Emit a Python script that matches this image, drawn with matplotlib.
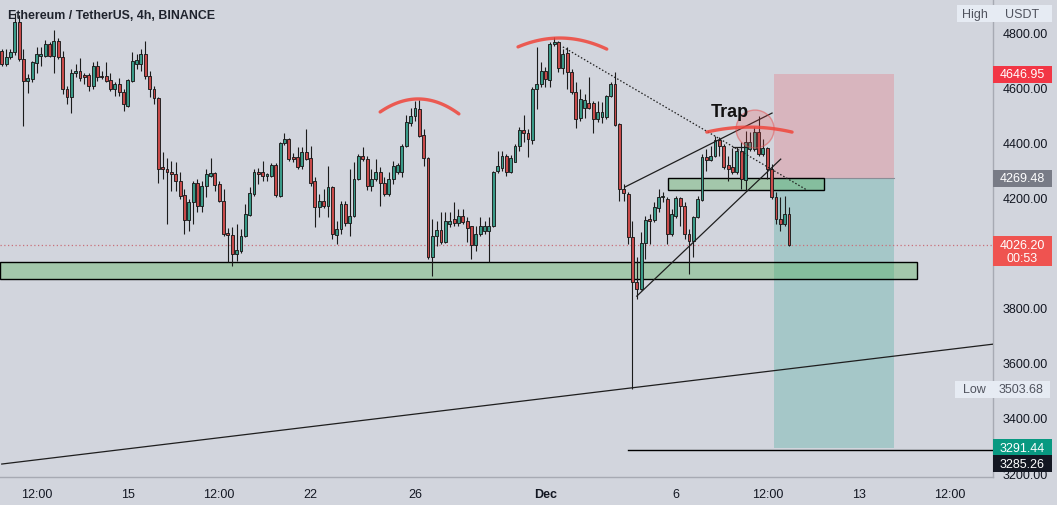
import numpy as np
import matplotlib
matplotlib.use("Agg")
import matplotlib.pyplot as plt
from matplotlib.patches import Rectangle, Ellipse

# ---- candle data (4h ETH/USDT), index 0 = Nov 10 04:00 ----
opens = [4732, 4684, 4711, 4726, 4835, 4702, 4623, 4629, 4687, 4714,
         4714, 4756, 4714, 4768, 4708, 4595, 4566, 4650, 4659, 4645,
         4644, 4605, 4675, 4639, 4641, 4626, 4595, 4611, 4583, 4532,
         4623, 4685, 4683, 4720, 4641, 4595, 4559, 4309, 4303, 4293,
         4285, 4260, 4208, 4119, 4182, 4254, 4170, 4240, 4276, 4287,
         4249, 4188, 4071, 4064, 3995, 4007, 4059, 4136, 4212, 4291,
         4291, 4279, 4276, 4317, 4206, 4396, 4412, 4345, 4345, 4315,
         4363, 4342, 4261, 4164, 4188, 4170, 4237, 4065, 4085, 4176,
         4107, 4134, 4267, 4351, 4339, 4243, 4267, 4291, 4252, 4212,
         4267, 4293, 4291, 4385, 4470, 4497, 4521, 4427, 4342, 3983,
         4061, 4082, 4040, 4104, 4122, 4107, 4132, 4113, 4095, 4028,
         4067, 4079, 4077, 4098, 4297, 4306, 4352, 4293, 4330, 4385,
         4446, 4434, 4410, 4593, 4611, 4660, 4627, 4757, 4763, 4668,
         4724, 4656, 4581, 4487, 4523, 4543, 4543, 4485, 4490, 4490,
         4567, 4612, 4466, 4231, 4212, 4055, 3895, 3868, 4035, 4121,
         4119, 4161, 4200, 4194, 4067, 4134, 4197, 4168, 4067, 4043,
         4128, 4192, 4345, 4337, 4349, 4410, 4385, 4318, 4309, 4291,
         4370, 4264, 4376, 4376, 4436, 4357, 4378, 4303, 4200, 4122,
         4104, 4140]
highs = [4740, 4740, 4740, 4868, 4860, 4740, 4647, 4696, 4744, 4744,
         4772, 4762, 4808, 4780, 4732, 4605, 4666, 4684, 4704, 4653,
         4653, 4690, 4696, 4659, 4692, 4653, 4617, 4632, 4593, 4629,
         4728, 4720, 4738, 4768, 4659, 4605, 4565, 4366, 4342, 4333,
         4329, 4293, 4230, 4194, 4260, 4266, 4261, 4303, 4343, 4291,
         4261, 4230, 4088, 4091, 4104, 4085, 4176, 4239, 4303, 4305,
         4333, 4290, 4325, 4325, 4400, 4434, 4415, 4361, 4382, 4382,
         4448, 4385, 4273, 4212, 4230, 4315, 4243, 4116, 4188, 4188,
         4303, 4327, 4357, 4382, 4352, 4303, 4339, 4309, 4273, 4291,
         4333, 4325, 4394, 4499, 4523, 4551, 4553, 4448, 4346, 4122,
         4116, 4146, 4146, 4148, 4182, 4158, 4158, 4128, 4098, 4098,
         4128, 4116, 4128, 4297, 4370, 4370, 4358, 4354, 4394, 4454,
         4499, 4448, 4599, 4745, 4690, 4672, 4763, 4781, 4769, 4738,
         4745, 4666, 4618, 4593, 4575, 4636, 4551, 4551, 4547, 4572,
         4618, 4654, 4470, 4249, 4218, 4116, 3983, 4073, 4134, 4140,
         4182, 4231, 4218, 4200, 4158, 4206, 4200, 4182, 4085, 4134,
         4206, 4358, 4376, 4388, 4424, 4418, 4394, 4351, 4378, 4382,
         4400, 4442, 4436, 4454, 4496, 4412, 4382, 4321, 4218, 4200,
         4206, 4164]
lows = [4678, 4678, 4702, 4716, 4695, 4460, 4578, 4620, 4653, 4678,
        4711, 4708, 4653, 4702, 4575, 4539, 4508, 4635, 4623, 4611,
        4587, 4593, 4623, 4629, 4617, 4587, 4569, 4569, 4514, 4527,
        4620, 4666, 4659, 4629, 4563, 4539, 4254, 4266, 4103, 4224,
        4224, 4196, 4067, 4079, 4103, 4146, 4146, 4200, 4273, 4224,
        4182, 4060, 3964, 3952, 3970, 3998, 4055, 4134, 4206, 4249,
        4261, 4261, 4273, 4200, 4200, 4390, 4333, 4327, 4303, 4303,
        4336, 4243, 4091, 4128, 4160, 4128, 4049, 4031, 4067, 4097,
        4061, 4130, 4262, 4333, 4228, 4224, 4261, 4168, 4206, 4206,
        4249, 4285, 4273, 4382, 4460, 4478, 4420, 4315, 3978, 3916,
        4025, 4031, 4035, 4092, 4098, 4098, 4104, 4037, 3977, 4007,
        4060, 4067, 3967, 4092, 4289, 4297, 4277, 4290, 4327, 4370,
        4400, 4346, 4394, 4521, 4600, 4599, 4600, 4748, 4654, 4648,
        4593, 4575, 4451, 4478, 4487, 4520, 4434, 4472, 4470, 4485,
        4563, 4458, 4188, 4188, 4031, 3504, 3832, 3866, 3977, 4031,
        4110, 4146, 4182, 4031, 4060, 4125, 4098, 4049, 3922, 3983,
        4125, 4188, 4297, 4333, 4345, 4351, 4303, 4261, 4285, 4285,
        4231, 4225, 4370, 4370, 4351, 4351, 4267, 4194, 4104, 4079,
        4098, 4024]
closes = [4684, 4710, 4726, 4835, 4702, 4623, 4633, 4690, 4720, 4720,
          4756, 4714, 4768, 4708, 4593, 4566, 4650, 4659, 4633, 4638,
          4605, 4678, 4635, 4635, 4623, 4593, 4611, 4581, 4539, 4627,
          4696, 4699, 4720, 4641, 4593, 4559, 4303, 4303, 4291, 4285,
          4260, 4206, 4119, 4182, 4254, 4170, 4243, 4285, 4287, 4245,
          4188, 4067, 4064, 3995, 4009, 4061, 4140, 4215, 4291, 4285,
          4276, 4279, 4317, 4209, 4396, 4412, 4339, 4339, 4311, 4363,
          4339, 4252, 4164, 4188, 4170, 4237, 4067, 4085, 4176, 4107,
          4134, 4267, 4351, 4339, 4243, 4267, 4291, 4252, 4212, 4267,
          4315, 4317, 4388, 4472, 4497, 4524, 4424, 4342, 3983, 4061,
          4082, 4040, 4116, 4113, 4107, 4132, 4112, 4090, 4028, 4067,
          4095, 4095, 4098, 4293, 4313, 4352, 4293, 4342, 4388, 4446,
          4434, 4412, 4593, 4611, 4660, 4630, 4757, 4765, 4668, 4720,
          4656, 4581, 4485, 4557, 4555, 4523, 4485, 4509, 4509, 4567,
          4612, 4462, 4231, 4216, 4055, 3892, 3868, 4035, 4119, 4115,
          4164, 4200, 4204, 4067, 4140, 4197, 4168, 4067, 4043, 4128,
          4194, 4345, 4337, 4351, 4410, 4385, 4309, 4303, 4291, 4370,
          4267, 4400, 4400, 4436, 4357, 4379, 4303, 4200, 4122, 4104,
          4140, 4026.20]

# time axis labels (candle index, label)
tick_idx = [8, 29, 50, 71, 95, 125, 155, 176, 197, 218]
tick_lab = ["12:00", "15", "12:00", "22", "26", "Dec", "6", "12:00", "13", "12:00"]
price_ticks = [3200, 3400, 3600, 3800, 4200, 4400, 4600, 4800]

# drawings (candle index, price)
support_zone = (-0.4, 210.4, 3904, 3965)
small_zone = (153.2, 189.0, 4228, 4269)
trade_x = (177.5, 205.1)
stop_price, entry_price, target_price = 4646.95, 4269.48, 3291.44
level_line = (144, 3285.26)
long_trend = [(0, 3233), (228, 3668)]
wedge_top = [(143.3, 4238), (177.1, 4506)]
wedge_bottom = [(146.0, 3842), (179.1, 4339)]
dotted_trend = [(129.0, 4746), (185.1, 4227)]
short_mark = [(168.1, 4382), (171.3, 4382)]
arcs = [[(87.0, 4510), (96.2, 4557), (105.1, 4503)],
        [(118.7, 4746), (127.7, 4778), (139.1, 4738)],
        [(162.1, 4437), (172.0, 4455), (181.7, 4437)]]
trap_circle = (173.2, 4448)
low_price, high_label = 3503.68, "USDT"

BG = "#d2d5dd"
UP, DOWN, EDGE = "#3a9a88", "#c84a4a", "#1b1b1b"
plt.rcParams['font.family'] = ['Liberation Sans', 'DejaVu Sans']

W, H = 1057, 506
fig = plt.figure(figsize=(W / 100, H / 100), dpi=100)
fig.patch.set_facecolor(BG)
ax = fig.add_axes([0, 28 / H, 993 / W, 478 / H])
ax.set_facecolor(BG)
ax.set_xlim(-0.4, 227.9)
ax.set_ylim(3186, 4919.7)
ppx = (4919.7 - 3186) / 478.0     # price per pixel
ipx = (227.9 + 0.4) / 993.0       # index per pixel

o = np.array(opens, float); c = np.array(closes, float)
h = np.array(highs, float); l = np.array(lows, float)
idx = np.arange(len(o))
up = c >= o
ax.vlines(idx, l, h, color=EDGE, lw=0.8, zorder=3)
body = np.maximum(np.abs(c - o), 1.2 * ppx)
ax.bar(idx, body, bottom=np.minimum(o, c), width=0.66,
       color=np.where(up, UP, DOWN), edgecolor=EDGE, linewidth=0.65, zorder=4)

# current price line
ax.axhline(closes[-1], color="#c9707a", lw=0.9, ls=(0, (1, 2)), zorder=2)

# trade box
ax.add_patch(Rectangle((trade_x[0], entry_price), trade_x[1] - trade_x[0],
                       stop_price - entry_price, fc="#f23645", alpha=0.2, lw=0, zorder=1))
ax.add_patch(Rectangle((trade_x[0], target_price), trade_x[1] - trade_x[0],
                       entry_price - target_price, fc="#089981", alpha=0.22, lw=0, zorder=1))
ax.plot(trade_x, [entry_price] * 2, color="#8a8d96", lw=0.8, zorder=1)

# zones
for x0, x1, y0, y1 in (support_zone, small_zone):
    ax.add_patch(Rectangle((x0, y0), x1 - x0, y1 - y0, fc=(76/255, 175/255, 80/255, 0.35),
                           ec="black", lw=1, zorder=2))

# lines
for seg, ls in ((long_trend, "-"), (wedge_top, "-"), (wedge_bottom, "-"),
                (dotted_trend, (0, (1.2, 1.6))), (short_mark, "-")):
    xs, ys = zip(*seg)
    ax.plot(xs, ys, color="#1e1e1e", lw=0.9, ls=ls, zorder=5)
ax.plot([level_line[0], 227.9], [level_line[1]] * 2, color="black", lw=1, zorder=5)

# red arcs
for pts in arcs:
    xs, ys = zip(*pts)
    coef = np.polyfit(xs, ys, 2)
    xx = np.linspace(xs[0], xs[-1], 60)
    ax.plot(xx, np.polyval(coef, xx), color="#f0453a", lw=2.4, alpha=0.85,
            solid_capstyle="round", zorder=6)

ax.add_patch(Ellipse(trap_circle, 38 * ipx, 38 * ppx, fc=(0.95, 0.3, 0.3, 0.22),
                     ec=(0.9, 0.3, 0.3, 0.5), lw=1, zorder=6))
ax.text(167.4, 4513, "Trap", fontsize=13, fontweight="bold", color="#111111",
        ha="center", va="center", zorder=7)

# axes styling
for s in ("top", "left"):
    ax.spines[s].set_visible(False)
for s in ("bottom", "right"):
    ax.spines[s].set_color("#a7aab3")
    ax.spines[s].set_linewidth(1)
ax.yaxis.tick_right()
ax.set_yticks(price_ticks)
ax.set_yticklabels([f"{p:.2f}" for p in price_ticks])
ax.tick_params(axis="y", length=0, pad=7, labelsize=9, labelcolor="#131722")
ax.set_xticks(tick_idx)
ax.set_xticklabels(tick_lab)
ax.tick_params(axis="x", length=0, pad=8, labelsize=9, labelcolor="#131722")
for t in ax.get_xticklabels():
    if t.get_text() == "Dec":
        t.set_fontweight("bold")

# price tags on the right axis
yt = ax.get_yaxis_transform()
XR = 1052 / 993
def tag(price, text, fc, tc, x0=1.0, x1=XR, hpx=17, dy=0):
    yc = price + dy * ppx
    ax.add_patch(Rectangle((x0, yc - hpx / 2 * ppx), x1 - x0, hpx * ppx, transform=yt,
                           fc=fc, ec="none", clip_on=False, zorder=20))
    ax.text((x0 + x1) / 2, yc, text, transform=yt, ha="center", va="center",
            color=tc, fontsize=9, clip_on=False, zorder=21)

tag(stop_price, f"{stop_price:.2f}", "#f23645", "white")
tag(entry_price, f"{entry_price:.2f}", "#787b86", "white")
tag(target_price, f"{target_price:.2f}", "#089981", "white")
tag(level_line[1], f"{level_line[1]:.2f}", "#131722", "white", dy=-14)
tag(closes[-1], "", "#ef5350", "white", hpx=30, dy=-6)
ax.text((1 + XR) / 2, closes[-1], f"{closes[-1]:.2f}", transform=yt, ha="center",
        va="center", color="white", fontsize=9, clip_on=False, zorder=21)
ax.text((1 + XR) / 2, closes[-1] - 13 * ppx, "00:53", transform=yt, ha="center",
        va="center", color="white", fontsize=9, clip_on=False, zorder=21)
tag(low_price, "Low", "#e6ebf3", "#50535e", x0=955 / 993, x1=1.0)
tag(low_price, f"{low_price:.2f}", "#e6ebf3", "#50535e", x0=1.0, x1=1050 / 993)
tag(4919.7 - 15 * ppx, "High", "#e6ebf3", "#50535e", x0=957 / 993, x1=1.0)
tag(4919.7 - 15 * ppx, high_label, "#e6ebf3", "#50535e", x0=1.0, x1=XR)

fig.text(8 / W, 1 - 16 / H, "Ethereum / TetherUS, 4h, BINANCE", fontsize=8.9,
         fontweight="bold", color="#1f232d", va="center", ha="left")

fig.savefig("out.png", dpi=100, facecolor=BG)
